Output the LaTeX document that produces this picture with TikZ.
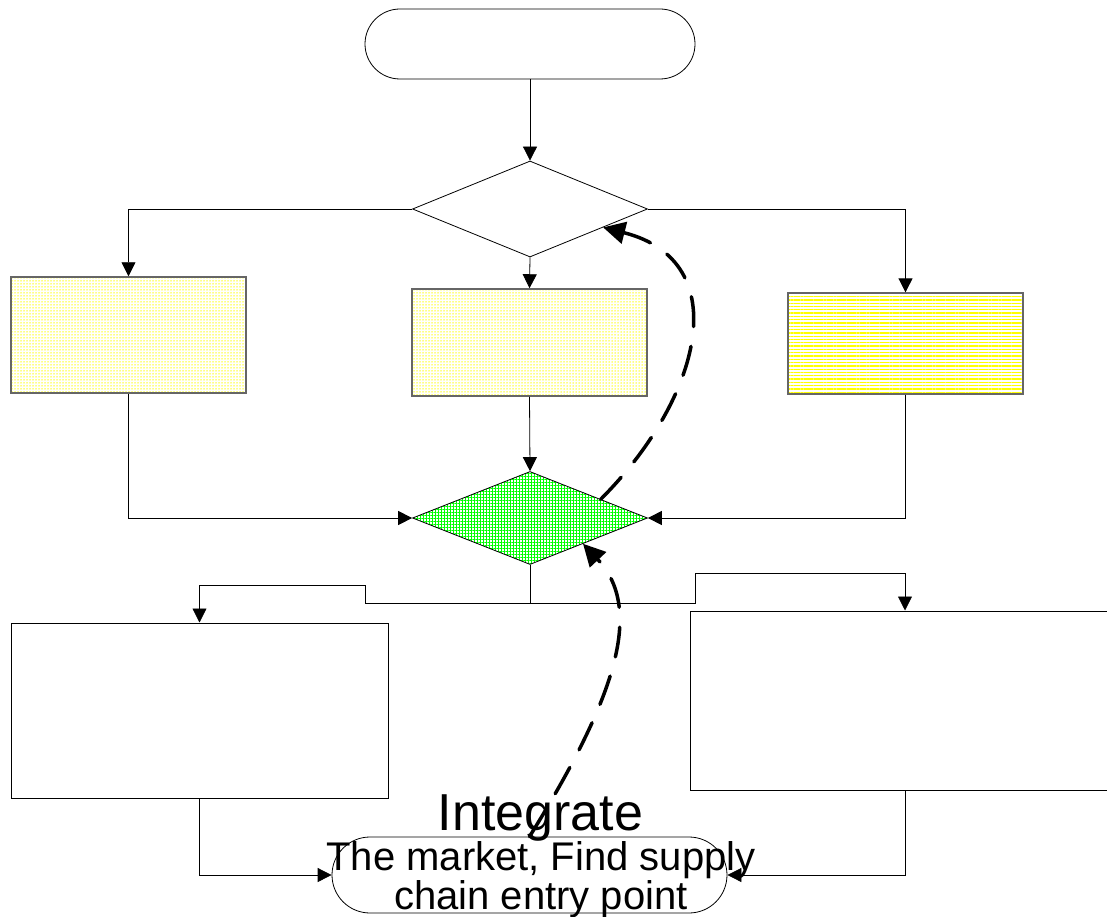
\documentclass[tikz,border=0pt]{standalone}
\usepackage{fontspec}
\setmainfont{Liberation Sans}
\usepackage{tikz}
\usetikzlibrary{shapes.geometric,arrows.meta,patterns.meta,calc}

\begin{document}
\begin{tikzpicture}[x=1pt,y=-1pt,
		line width=0.8pt,
		arr/.style={-{Triangle[length=14pt,width=14pt]}},
		dasharr/.style={line width=3.5pt,line cap=round,dash pattern=on 30pt off 20pt,-{Triangle[length=22pt,width=22pt]}},
		term/.style={draw,rectangle,inner sep=0pt},
		dec/.style={draw,diamond,inner sep=0pt,minimum width=235pt},
		proc/.style={draw=black!60,line width=1.5pt,rectangle,inner sep=0pt},
		dotbox/.style={proc,pattern={Dots[distance=3pt,radius=0.75pt]},pattern color=yellow},
		linebox/.style={proc,pattern={Lines[angle=0,distance=3.3pt,line width=1.3pt]},pattern color=yellow}]
		\path[use as bounding box,clip] (0,0) rectangle (1107,917);
		\node[term,rounded corners=35pt,minimum width=330pt,minimum height=70pt] (start) at (530,44) {};
		\node[dec,minimum height=96pt] (check) at (530,209) {};
		\node[dotbox,minimum width=235pt,minimum height=116pt] (left) at (128.5,335) {};
		\node[dotbox,minimum width=235pt,minimum height=107pt] (mid) at (529.5,342.5) {};
		\node[linebox,minimum width=235pt,minimum height=101pt] (right) at (905.5,343.5) {};
		\node[dec,minimum height=93pt,pattern={Hatch[angle=0,distance=3pt,line width=0.7pt]},pattern color=green] (merge) at (530,518) {};
		\node[proc,draw=black,line width=1pt,minimum width=377pt,minimum height=175pt] (outL) at (199.5,710.5) {};
		\node[proc,draw=black,line width=1pt,minimum width=430pt,minimum height=179pt] (outR) at (905,700.5) {};
		\node[term,rounded corners=38pt,minimum width=395pt,minimum height=76pt] (stop) at (529.5,875) {};
		\node[font=\fontsize{52}{52}\selectfont,anchor=base] (integ) at (540.5,830) {Integrate};
		\node[font=\fontsize{40}{39}\selectfont,align=center] (stoptext) at (541,880) {The market, Find supply\\chain entry point};
		% junctions below the merge
		\coordinate (split) at (530,603);
		\coordinate (jL1) at (365,603);
		\coordinate (jL2) at (365,585);
		\coordinate (jR1) at (695,603);
		\coordinate (jR2) at (695,573);
		% points on the diamond edges
		\coordinate (loopA) at ($(merge.north)!0.6!(merge.east)$);
		\coordinate (loopB) at ($(check.east)!0.38!(check.south)$);
		\coordinate (backB) at ($(merge.east)!0.55!(merge.south)$);

		\draw[arr] (start) -- (check);
		\draw[arr] (check.west) -| (left.north);
		\draw[arr] (check.south) -- (mid.north);
		\draw[arr] (check.east) -| (right.north);
		\draw[arr] (left.south) |- (merge.west);
		\draw[arr] (mid.south) -- (merge.north);
		\draw[arr] (right.south) |- (merge.east);
		\draw (merge.south) -- (split);
		\draw[arr] (split) -- (jL1) -- (jL2) -| (outL.north);
		\draw[arr] (split) -- (jR1) -- (jR2) -| (outR.north);
		\draw[arr] (outL.south) |- (stop.west);
		\draw[arr] (outR.south) |- (stop.east);
		\draw[dasharr] (loopA) .. controls +(100,-100) and +(134,34) .. (loopB);
		\draw[dasharr] (stop.north) .. controls +(85,-137) and +(62,66) .. (backB);
	\end{tikzpicture}
\end{document}
